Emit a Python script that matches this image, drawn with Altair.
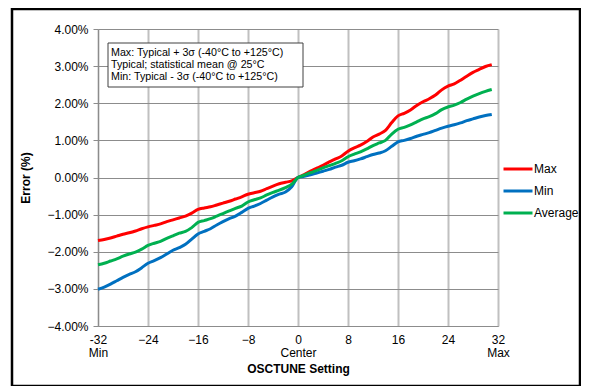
import altair as alt
import pandas as pd

x_settings = list(range(-32, 32))

max_vals = [-1.70, -1.67, -1.63, -1.58, -1.53, -1.49, -1.44, -1.38, -1.33, -1.29,
            -1.25, -1.19, -1.14, -1.09, -1.04, -0.96, -0.86, -0.82, -0.79, -0.74,
            -0.69, -0.64, -0.58, -0.52, -0.45, -0.41, -0.37, -0.30, -0.23, -0.17,
            -0.13, -0.09, 0.00, 0.08, 0.17, 0.25, 0.33, 0.42, 0.50, 0.58,
            0.71, 0.80, 0.87, 0.97, 1.09, 1.17, 1.27, 1.48, 1.66, 1.73,
            1.82, 1.94, 2.04, 2.12, 2.22, 2.36, 2.46, 2.52, 2.62, 2.73,
            2.83, 2.91, 2.99, 3.04]

min_vals = [-3.01, -2.95, -2.87, -2.78, -2.69, -2.61, -2.54, -2.43, -2.31, -2.24,
            -2.16, -2.06, -1.96, -1.89, -1.80, -1.66, -1.52, -1.45, -1.38, -1.28,
            -1.19, -1.11, -1.04, -0.94, -0.83, -0.77, -0.70, -0.61, -0.52, -0.45,
            -0.39, -0.25, 0.00, 0.03, 0.07, 0.12, 0.17, 0.22, 0.28, 0.33,
            0.41, 0.45, 0.50, 0.56, 0.62, 0.66, 0.72, 0.84, 0.96, 1.00,
            1.05, 1.11, 1.16, 1.21, 1.27, 1.33, 1.38, 1.42, 1.47, 1.53,
            1.58, 1.63, 1.67, 1.70]

avg_vals = [-2.35, -2.31, -2.25, -2.19, -2.12, -2.06, -2.01, -1.93, -1.83, -1.77,
            -1.72, -1.64, -1.57, -1.50, -1.45, -1.35, -1.21, -1.16, -1.11, -1.04,
            -0.97, -0.90, -0.83, -0.77, -0.66, -0.60, -0.55, -0.47, -0.40, -0.34,
            -0.27, -0.18, 0.00, 0.06, 0.13, 0.19, 0.26, 0.32, 0.38, 0.45,
            0.56, 0.63, 0.69, 0.77, 0.86, 0.93, 1.00, 1.17, 1.30, 1.35,
            1.42, 1.50, 1.58, 1.64, 1.72, 1.83, 1.90, 1.95, 2.02, 2.11,
            2.19, 2.26, 2.32, 2.37]

series_names = ["Max", "Min", "Average"]
series_colors = ["#ff0000", "#0070c0", "#00b050"]
x_ticks = [-32, -24, -16, -8, 0, 8, 16, 24, 32]
y_ticks = [-4, -3, -2, -1, 0, 1, 2, 3, 4]
note_lines = ["Max: Typical + 3\u03c3 (-40\u00b0C to +125\u00b0C)",
              "Typical; statistical mean @ 25\u00b0C",
              "Min: Typical - 3\u03c3 (-40\u00b0C to +125\u00b0C)"]

rows = []
for name, vals in zip(series_names, [max_vals, min_vals, avg_vals]):
    for xv, yv in zip(x_settings, vals):
        rows.append({"setting": xv, "error": yv, "series": name})
df = pd.DataFrame(rows)

FONT = "Liberation Sans"

x_enc = alt.X("setting:Q", scale=alt.Scale(domain=[-32, 32], nice=False),
              axis=alt.Axis(values=x_ticks, title="OSCTUNE Setting",
                            labelExpr="datum.value == -32 ? ['-32', 'Min'] : datum.value == 0 ? ['0', 'Center'] : datum.value == 32 ? ['32', 'Max'] : datum.label",
                            labelLineHeight=13, labelPadding=8, tickSize=0,
                            labelFlush=False, labelOverlap=False,
                            grid=True, gridColor="#c0c0c0", gridWidth=2,
                            domainColor="#8c8c8c", domainWidth=1,
                            titleFontWeight="bold", titleFontSize=12, titlePadding=5))
y_enc = alt.Y("error:Q", scale=alt.Scale(domain=[-4, 4], nice=False),
              axis=alt.Axis(values=y_ticks, title="Error (%)",
                            labelExpr="format(datum.value, '.2f') + '%'",
                            tickSize=5, tickColor="#8c8c8c", labelPadding=5,
                            grid=True, gridColor="#8c8c8c", gridWidth=1,
                            domainColor="#8c8c8c", domainWidth=1,
                            titleFontWeight="bold", titleFontSize=12, titlePadding=14))

lines = alt.Chart(df).mark_line(strokeWidth=3, interpolate="monotone").encode(
    x=x_enc,
    y=y_enc,
    color=alt.Color("series:N",
                    scale=alt.Scale(domain=series_names, range=series_colors),
                    sort=series_names,
                    legend=alt.Legend(title=None, orient="none", legendX=404, legendY=124,
                                      symbolType="stroke", symbolSize=841,
                                      symbolStrokeWidth=3, labelFontSize=12,
                                      labelOffset=0, rowPadding=-2, padding=0)),
    order=alt.Order("series:N"),
)

frame = alt.Chart(pd.DataFrame({"k": [0]})).mark_rect(
    fill="transparent", stroke="#000000", strokeWidth=2.5
).encode(x=alt.value(-86), x2=alt.value(482), y=alt.value(-20), y2=alt.value(357))

note_box = alt.Chart(pd.DataFrame({"k": [0]})).mark_rect(
    fill="#ffffff", stroke="#404040", strokeWidth=1
).encode(x=alt.value(10), x2=alt.value(205), y=alt.value(14), y2=alt.value(58))

note_text = alt.Chart(pd.DataFrame({"t": [note_lines]})).mark_text(
    align="left", baseline="middle", fontSize=10.7, lineHeight=12, font=FONT, color="#000000"
).encode(x=alt.value(13), y=alt.value(24), text="t")

chart = alt.layer(lines, frame, note_box, note_text).properties(
    width=400, height=297,
    padding={"left": 90, "top": 21, "right": 83, "bottom": 60},
    autosize=alt.AutoSizeParams(type="none"),
).configure(font=FONT).configure_axis(
    labelFont=FONT, titleFont=FONT, labelFontSize=12, labelColor="#000000", titleColor="#000000"
).configure_legend(labelFont=FONT, labelColor="#000000").configure_view(stroke="transparent")

chart.save("out.html", embed_options={"renderer": "svg", "actions": False})
